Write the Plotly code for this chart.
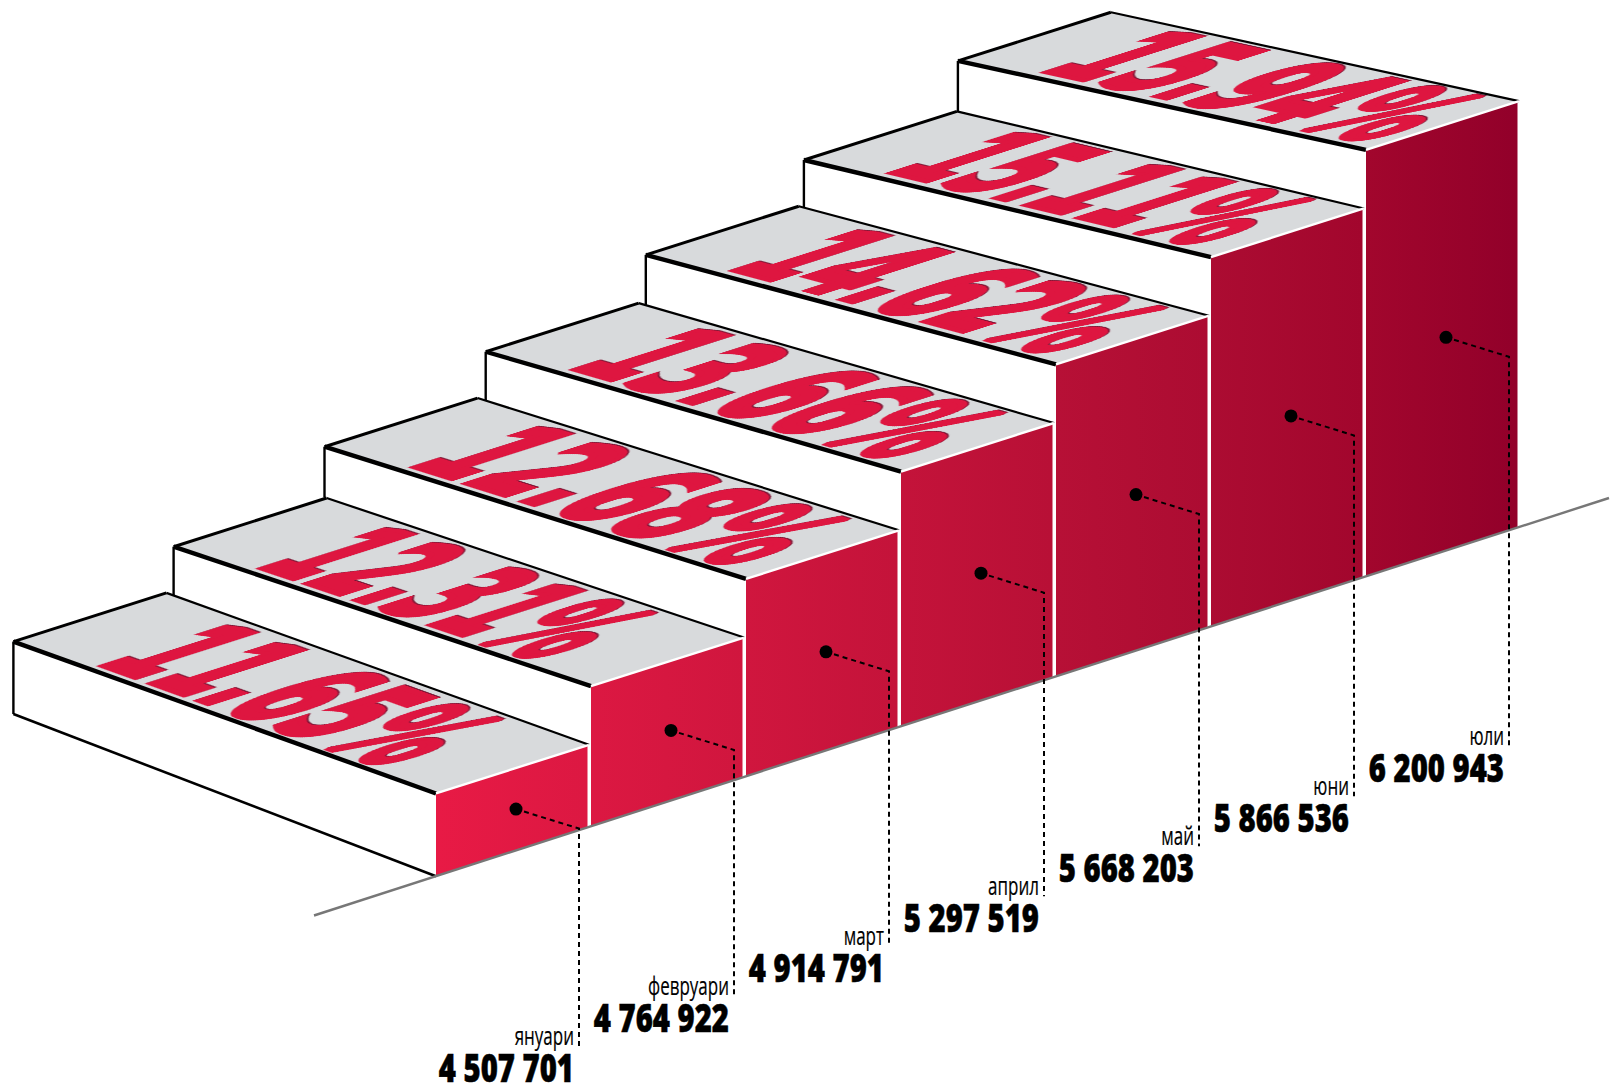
import json
import plotly.graph_objects as go

# Monthly figures shown on the staircase
months = ["януари", "февруари", "март", "април", "май", "юни", "юли"]
amounts = [4507701, 4764922, 4914791, 5297519, 5668203, 5866536, 6200943]
shares = [11.65, 12.31, 12.68, 13.66, 14.62, 15.11, 15.94]

W, H = 1620, 1086

# Ground line and staircase projection, in plot units
GROUND_X0, GROUND_Y0, GROUND_X1 = 314, 915.5, 1609
GROUND_SLOPE = -0.3224
FRONT_X0, FRONT_PITCH, FRONT_W, TREAD_W = 436, 155, 151.5, 153
RISE_BASE, RISE_STEP = 82.7, 57.3
TOP_SLOPE = -0.318
TREAD_DEPTH_X = [422.6, 417.4, 421.5, 415.3, 410.2, 407.1, 408.1]
TREAD_DEPTH_Y = [151.9, 139.5, 132.2, 119.9, 109.5, 97.1, 88.9]
SHARE_STRETCH = [0.70, 0.685, 0.79, 0.78, 0.785, 0.76, 0.80]


def ground(x):
    return GROUND_Y0 + GROUND_SLOPE * (x - GROUND_X0)


def lerp_hex(stops, t):
    for (t0, c0), (t1, c1) in zip(stops, stops[1:]):
        if t <= t1:
            k = (t - t0) / (t1 - t0)
            a = [int(c0[n:n + 2], 16) for n in (1, 3, 5)]
            b = [int(c1[n:n + 2], 16) for n in (1, 3, 5)]
            return "#%02x%02x%02x" % tuple(round(p + (q - p) * k) for p, q in zip(a, b))
    return stops[-1][1]


RED_RAMP = [(0, "#e81a45"), (0.33, "#cc153d"), (0.66, "#b00e34"), (0.9, "#9f042c"), (1, "#92002a")]
SPAN_X0 = FRONT_X0
SPAN_X1 = FRONT_X0 + 6 * FRONT_PITCH + FRONT_W


def ramp(x):
    return lerp_hex(RED_RAMP, (x - SPAN_X0) / (SPAN_X1 - SPAN_X0))


def fmt_amount(v):
    return f"{v:,}".replace(",", " ")


def fmt_share(v):
    return f"{v:.2f}%"


fig = go.Figure()


def poly(xs, ys, fill):
    fig.add_trace(go.Scatter(x=xs + xs[:1], y=ys + ys[:1], mode="lines", fill="toself",
                             fillcolor=fill, line=dict(width=0), hoverinfo="skip", showlegend=False))


def edge(xs, ys, color="#000000", width=2.0, dash="solid"):
    fig.add_trace(go.Scatter(x=xs, y=ys, mode="lines", hoverinfo="skip", showlegend=False,
                             line=dict(color=color, width=width, dash=dash)))


ranks = [sorted(amounts).index(v) for v in amounts]
steps = []
for i, rank in enumerate(ranks):
    tx, ty = TREAD_W, TREAD_W * TOP_SLOPE
    fx = FRONT_X0 + FRONT_PITCH * i
    rise = RISE_BASE + RISE_STEP * rank
    fy = ground(fx) - rise
    ddx, ddy = TREAD_DEPTH_X[i], TREAD_DEPTH_Y[i]
    ax, ay = fx - ddx, fy - ddy          # left corner of the tread
    bx, by = ax + tx, ay + ty            # far corner
    cx, cy = fx + tx, fy + ty            # right corner
    steps.append(dict(fx=fx, fy=fy, ax=ax, ay=ay, bx=bx, by=by, cx=cx, cy=cy, rise=rise, ddx=ddx, ddy=ddy))

# Treads, risers and front faces
for i, s in enumerate(steps):
    if i == 0:
        lift = 72.5
        poly([s["ax"], s["fx"], s["fx"], s["ax"]],
             [s["ay"], s["fy"], s["fy"] + s["rise"], s["ay"] + lift], "#ffffff")
        edge([s["ax"], s["ax"]], [s["ay"], s["ay"] + lift], width=2.4)
        edge([s["ax"], s["fx"]], [s["ay"] + lift, s["fy"] + s["rise"]], width=2.6)
    else:
        p = steps[i - 1]
        poly([s["ax"], s["fx"], p["cx"], p["bx"]], [s["ay"], s["fy"], p["cy"], p["by"]], "#ffffff")
        foot = p["by"] + (s["ax"] - p["bx"]) * (p["cy"] - p["by"]) / (p["cx"] - p["bx"])
        edge([s["ax"], s["ax"]], [s["ay"], foot], width=2.4)
    poly([s["ax"], s["bx"], s["cx"], s["fx"]], [s["ay"], s["by"], s["cy"], s["fy"]], "#d8dadc")

# Percentages printed flat on the treads
SHARE_SIZE = 100
SHARE_AT = 0.19
fig.add_trace(go.Scatter(
    x=[s["ax"] + s["ddx"] * SHARE_AT for s in steps],
    y=[s["ay"] + s["ddy"] * SHARE_AT for s in steps],
    mode="text", text=[fmt_share(v) for v in shares], textposition="middle right",
    hoverinfo="skip", showlegend=False,
    textfont=dict(family="DejaVu Sans", size=SHARE_SIZE, color="#de1640", weight="bold")))

for s in steps:
    x_r = s["fx"] + FRONT_W
    xs = [s["fx"], x_r, x_r, s["fx"]]
    ys = [s["fy"], s["fy"] + FRONT_W * TOP_SLOPE, ground(x_r), ground(s["fx"])]
    fig.add_trace(go.Scatter(
        x=xs + xs[:1], y=ys + ys[:1], mode="lines", fill="toself", line=dict(width=0),
        fillgradient=dict(type="horizontal", colorscale=[[0, ramp(s["fx"])], [1, ramp(x_r)]]),
        hoverinfo="skip", showlegend=False))

for s in steps:
    edge([s["bx"], s["cx"]], [s["by"], s["cy"]], width=2.2)
    edge([s["ax"], s["bx"]], [s["ay"], s["by"]], width=3.0)
    edge([s["ax"], s["fx"]], [s["ay"], s["fy"]], width=4.4)
    edge([s["fx"], s["cx"]], [s["fy"], s["cy"]], color="#ffffff", width=2.4)

# Ground line
edge([GROUND_X0, GROUND_X1], [ground(GROUND_X0), ground(GROUND_X1)], color="#777777", width=2.4)

# Leaders and their dots
LABEL_DROP = 216
for s in steps:
    lx = s["fx"] + 143
    dx = s["fx"] + 80
    dy = ground(dx) - s["rise"] * 0.5
    ey = dy + (lx - dx) * 0.31
    edge([dx + 8, lx, lx], [dy + 2.5, ey, ground(lx) + LABEL_DROP], width=2, dash="5px,4px")
    s["lx"] = lx

fig.add_trace(go.Scatter(
    x=[s["fx"] + 80 for s in steps],
    y=[ground(s["fx"] + 80) - s["rise"] * 0.5 for s in steps],
    mode="markers", marker=dict(color="#000000", size=13), hoverinfo="skip", showlegend=False))

# Month names and amounts, right-aligned against each leader
fig.add_trace(go.Scatter(
    x=[s["lx"] - 5 for s in steps], y=[ground(s["lx"]) + 209 for s in steps],
    mode="text", text=months, textposition="middle left", hoverinfo="skip", showlegend=False,
    textfont=dict(family="Open Sans", size=25, color="#000000")))
fig.add_trace(go.Scatter(
    x=[s["lx"] - 5 for s in steps], y=[ground(s["lx"]) + 242 for s in steps],
    mode="text", text=[fmt_amount(v) for v in amounts], textposition="middle left",
    hoverinfo="skip", showlegend=False,
    textfont=dict(family="Open Sans", size=39, color="#000000", weight=800)))

# Glyph frame on each tread: baseline parallel to the front edge, stems along the side edge
tread = {}
for v, s, along in zip(shares, steps, SHARE_STRETCH):
    up = 1.75
    tread[fmt_share(v)] = dict(
        m=[along, along * s["ddy"] / s["ddx"], -up, -TOP_SLOPE * up,
           s["ax"] + s["ddx"] * SHARE_AT, s["ay"] + s["ddy"] * SHARE_AT - 33])

post_script = """
var gd = document.getElementById('{plot_id}');
var tread = %s;
gd.querySelectorAll('.textpoint text').forEach(function (t) {
  var k = tread[t.textContent];
  if (!k) {
    var size = parseFloat(t.style.fontSize);
    var x = parseFloat(t.getAttribute('x'));
    var sx = size > 30 ? 0.75 : 0.68;
    t.style.stroke = '#000';
    t.style.strokeWidth = size > 30 ? '0.6px' : '0.2px';
    t.setAttribute('transform', 'translate(' + x + ',0) scale(' + sx + ',1) translate(' + (-x) + ',0)');
    return;
  }
  t.setAttribute('x', 0);
  t.setAttribute('y', 0);
  t.setAttribute('text-anchor', 'start');
  t.setAttribute('transform', 'matrix(' + k.m.join(',') + ')');
  t.style.stroke = '#de1640';
  t.style.strokeWidth = '5px';
  t.style.filter = 'drop-shadow(0.6px -0.3px 0.3px #7a1030) blur(0.3px)';
});
""" % json.dumps(tread)

fig.update_layout(
    width=W, height=H, margin=dict(l=0, r=0, t=0, b=0),
    paper_bgcolor="#ffffff", plot_bgcolor="#ffffff", showlegend=False, hovermode=False,
    xaxis=dict(range=[0, W], visible=False, fixedrange=True),
    yaxis=dict(range=[H, 0], visible=False, fixedrange=True),
)

fig.write_html("out.html", post_script=post_script, config=dict(displayModeBar=False))
